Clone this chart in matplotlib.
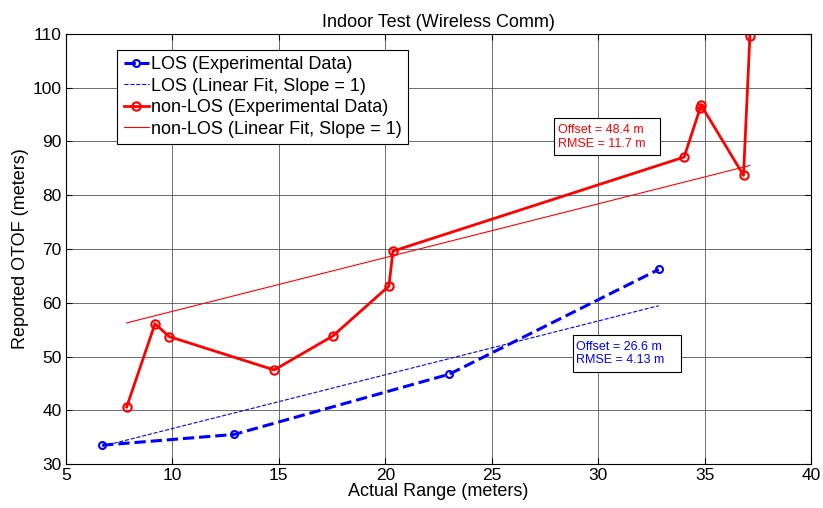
import numpy as np
import matplotlib
matplotlib.use("Agg")
import matplotlib.pyplot as plt
from matplotlib.patches import Rectangle

plt.rcParams['font.family'] = ['Liberation Sans', 'DejaVu Sans']

# LOS measurements
los_range = [6.7, 12.9, 23.0, 32.85]
los_otof = [33.5, 35.5, 46.7, 66.2]
los_offset = 26.6
los_rmse = 4.13

# non-LOS measurements
nlos_range = [7.85, 9.18, 9.85, 14.78, 17.53, 20.17, 20.36, 34.04, 34.8, 34.85, 36.83, 37.13]
nlos_otof = [40.6, 56.1, 53.7, 47.5, 53.8, 63.1, 69.6, 87.1, 96.3, 96.7, 83.7, 109.6]
nlos_offset = 48.4
nlos_rmse = 11.7

fig = plt.figure(figsize=(8.23, 5.08), dpi=100)
ax = fig.add_axes([0.0802, 0.0866, 0.9052, 0.8465])

# Experimental data and slope-1 fits
ax.plot(los_range, los_otof, color='blue', ls='--', lw=2.2, marker='o',
        ms=5, mfc='none', mew=1.5, label='LOS (Experimental Data)')
xl = np.array([los_range[0], los_range[-1]])
ax.plot(xl, xl + los_offset, color='blue', ls='--', lw=0.8,
        label='LOS (Linear Fit, Slope = 1)')
ax.plot(nlos_range, nlos_otof, color='red', ls='-', lw=2.0, marker='o',
        ms=6, mfc='none', mew=1.5, label='non-LOS (Experimental Data)')
xn = np.array([nlos_range[0], nlos_range[-1]])
ax.plot(xn, xn + nlos_offset, color='red', ls='-', lw=0.8,
        label='non-LOS (Linear Fit, Slope = 1)')


# Annotation boxes (MATLAB-style text boxes, extra room on the right)
def note(x0, y0, w, h, txt, col):
    ax.add_patch(Rectangle((x0, y0), w, h, fc='white', ec='black', lw=0.8, zorder=4))
    ax.text(x0 + 0.18, y0 + h / 2, txt, color=col, fontsize=9, va='center',
            ha='left', linespacing=1.2, zorder=5)


note(27.95, 87.4, 4.95, 6.9,
     'Offset = %.1f m\nRMSE = %.1f m' % (nlos_offset, nlos_rmse), 'red')
note(28.8, 47.1, 5.1, 6.9,
     'Offset = %.1f m\nRMSE = %.2f m' % (los_offset, los_rmse), 'blue')

ax.set_xlim(5, 40)
ax.set_ylim(30, 110)
ax.set_xticks(range(5, 41, 5))
ax.set_yticks(range(30, 111, 10))
ax.grid(True, color='#555555', lw=0.6)
ax.tick_params(direction='in', top=True, right=True, labelsize=12.5, length=4, pad=3)
for s in ax.spines.values():
    s.set_linewidth(0.8)

ax.set_title('Indoor Test (Wireless Comm)', fontsize=13, pad=5)
ax.set_xlabel('Actual Range (meters)', fontsize=13, labelpad=0)
ax.set_ylabel('Reported OTOF (meters)', fontsize=13, labelpad=3)

leg = ax.legend(loc='upper left', bbox_to_anchor=(0.069, 0.963), fontsize=13,
                handlelength=1.4, handletextpad=0.1, borderpad=0.35,
                labelspacing=0.25, fancybox=False, framealpha=1,
                edgecolor='black', borderaxespad=0)
leg.get_frame().set_linewidth(0.8)

fig.savefig('out.png', dpi=100)
